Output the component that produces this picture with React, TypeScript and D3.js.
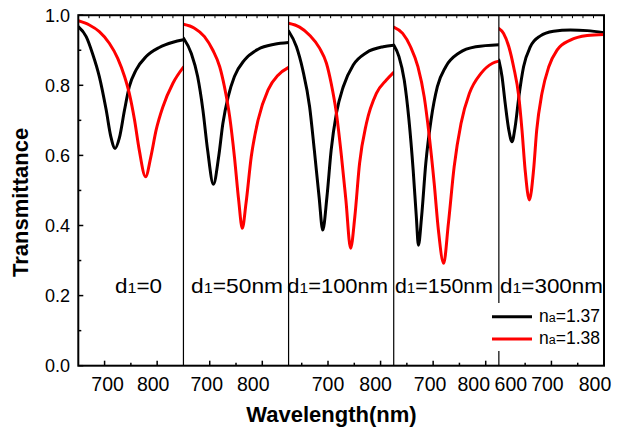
import React from 'react';
import * as d3 from 'd3';

// ---------- data ----------
const panelSuffix = ['=0', '=50nm', '=100nm', '=150nm', '=300nm'];
const panelDomains: [number, number][] = [[650, 850], [650, 850], [625, 825], [625, 825], [600, 800]];
const panelMajorTicks: number[][] = [[700, 800], [700, 800], [700, 800], [700, 800], [600, 700, 800]];
const yTicks = [0, 0.2, 0.4, 0.6, 0.8, 1.0];
const seriesNames = ['1.37', '1.38'];

// na = 1.37 (black) and na = 1.38 (red) per panel: [wavelength nm, transmittance]
const p1_137: [number, number][] = [[650, .967], [665, .939], [677, .891], [690, .825], [703, .73], [712, .653], [720, .62], [728, .649], [738, .73], [747, .796], [760, .844], [779, .882], [804, .908], [830, .923], [850, .93]];
const p1_138: [number, number][] = [[650, .984], [671, .972], [690, .953], [709, .92], [725, .877], [738, .825], [747, .777], [757, .701], [766, .615], [778, .539], [788, .596], [798, .672], [811, .739], [830, .806], [850, .852]];
const p2_137: [number, number][] = [[650, .935], [665, .891], [677, .825], [687, .73], [696, .615], [707, .518], [717, .596], [725, .691], [735, .767], [747, .825], [766, .872], [792, .903], [823, .917], [850, .922]];
const p2_138: [number, number][] = [[650, .974], [671, .963], [690, .939], [706, .9], [719, .853], [728, .796], [738, .71], [747, .596], [755, .473], [762, .392], [769, .463], [779, .596], [792, .701], [811, .787], [830, .829], [850, .851]];
const p3_137: [number, number][] = [[625, .955], [640, .91], [652, .844], [665, .739], [674, .615], [683, .482], [690, .387], [698, .482], [706, .615], [716, .72], [729, .796], [748, .858], [773, .893], [805, .91], [825, .914]];
const p3_138: [number, number][] = [[625, .977], [646, .966], [665, .943], [684, .906], [697, .863], [706, .806], [716, .72], [725, .606], [734, .473], [743, .335], [751, .425], [760, .577], [773, .691], [792, .777], [811, .815], [825, .837]];
const p4_137: [number, number][] = [[625, .915], [635, .882], [645, .815], [654, .701], [662, .558], [668, .425], [672, .344], [678, .425], [686, .577], [696, .701], [708, .796], [724, .853], [750, .893], [781, .91], [825, .916]];
const p4_138: [number, number][] = [[625, .966], [642, .948], [657, .91], [671, .853], [683, .767], [692, .663], [702, .52], [710, .387], [720, .292], [729, .406], [740, .568], [753, .691], [769, .777], [791, .834], [813, .863], [825, .869]];
const p5_137: [number, number][] = [[600, .872], [606, .825], [612, .749], [619, .672], [625, .639], [631, .682], [638, .767], [647, .853], [660, .91], [679, .941], [704, .954], [736, .958], [768, .956], [800, .95]];
const p5_138: [number, number][] = [[600, .962], [609, .948], [619, .91], [628, .853], [638, .767], [644, .672], [650, .558], [658, .473], [666, .558], [672, .672], [682, .777], [695, .853], [711, .901], [736, .929], [768, .942], [800, .945]];

const panelSeries = [
  [p1_137, p1_138],
  [p2_137, p2_138],
  [p3_137, p3_138],
  [p4_137, p4_138],
  [p5_137, p5_138],
];

// ---------- layout / style ----------
const W = 619, H = 431;
const L = 78.3, R = 604, T = 15.2, B = 365.7;
const colors = ['#000000', '#ff0000'];
const FONT = '"Liberation Sans", Arial, Helvetica, sans-serif';
const tickLabelShift = [[3, -4], [-3, -9], [0, -5], [-3, -12], [12, -4, -9]];
const annoDx = [36.7, 7.6, -1.3, 1.3, 1.1];
const annoLen = [47, 92, 100.7, 98, 103];

export default function App() {
  const edge = d3.scaleLinear().domain([0, panelDomains.length]).range([L, R]);
  const y = d3.scaleLinear().domain([0, 1]).range([B, T]);
  const xs = panelDomains.map((dom, i) => d3.scaleLinear().domain(dom).range([edge(i), edge(i + 1)]));

  return (
    <svg width={W} height={H} viewBox={`0 0 ${W} ${H}`}
      style={{ position: 'absolute', left: 0, top: 0, background: '#fff' }}
      fontFamily={FONT}>
      <defs>
        {xs.map((x, i) => (
          <clipPath id={`clip${i}`} key={i}>
            <rect x={edge(i)} y={T} width={edge(i + 1) - edge(i)} height={B - T} />
          </clipPath>
        ))}
      </defs>

      {/* curves */}
      {panelSeries.map((series, i) => {
        const line = d3.line<[number, number]>()
          .x(d => xs[i](d[0]))
          .y(d => y(d[1]))
          .curve(d3.curveMonotoneX);
        return (
          <g key={i} clipPath={`url(#clip${i})`}>
            {series.map((s, j) => (
              <path key={j} d={line(s) || ''} fill="none" stroke={colors[j]} strokeWidth={3}
                strokeLinejoin="round" strokeLinecap="round" />
            ))}
          </g>
        );
      })}

      {/* panel dividers */}
      {d3.range(1, panelDomains.length).map(i => (
        <line key={i} x1={edge(i)} x2={edge(i)} y1={T} y2={B} stroke="#000" strokeWidth={1.2} />
      ))}

      {/* top ticks */}
      {xs.map((x, i) => {
        const [a, b] = panelDomains[i];
        return d3.range(a + 20, b, 20).map(v => (
          <line key={`t${i}-${v}`} x1={x(v)} x2={x(v)} y1={T} y2={T + 3} stroke="#000" strokeWidth={1} />
        ));
      })}

      {/* bottom ticks */}
      {xs.map((x, i) => {
        const [a, b] = panelDomains[i];
        const minors = d3.range(Math.ceil(a / 50) * 50, b + 1, 50).filter(v => v % 100 !== 0 && v > a && v < b);
        return (
          <g key={`b${i}`}>
            {panelMajorTicks[i].filter(v => v > a && v < b).map(v => (
              <line key={`M${v}`} x1={x(v)} x2={x(v)} y1={B} y2={B - 5} stroke="#000" strokeWidth={1.5} />
            ))}
            {minors.map(v => (
              <line key={`m${v}`} x1={x(v)} x2={x(v)} y1={B} y2={B - 3} stroke="#000" strokeWidth={1.5} />
            ))}
            {panelMajorTicks[i].map((v, k) => (
              <text key={`l${v}`} x={x(v) + tickLabelShift[i][k]} y={390.5} fontSize={19.5}
                textAnchor="middle" fill="#000">{v}</text>
            ))}
          </g>
        );
      })}

      {/* left ticks */}
      {d3.range(0, 11).map(k => {
        const v = k / 10;
        const major = k % 2 === 0;
        return (
          <line key={`y${k}`} x1={L} x2={L + (major ? 5 : 3)} y1={y(v)} y2={y(v)} stroke="#000" strokeWidth={1.5} />
        );
      })}
      {yTicks.map(v => (
        <text key={`yl${v}`} x={70} y={y(v)} dy="0.36em" fontSize={18} textAnchor="end" fill="#000">
          {d3.format('.1f')(v)}
        </text>
      ))}

      {/* frame */}
      <rect x={L} y={T} width={R - L} height={B - T} fill="none" stroke="#000" strokeWidth={2} />

      {/* panel annotations */}
      {panelSuffix.map((s, i) => (
        <text key={`a${i}`} x={edge(i) + annoDx[i]} y={292.5} fontSize={21} fill="#000"
          textLength={annoLen[i]} lengthAdjust="spacingAndGlyphs">
          d<tspan fontSize={15}>1</tspan>{s}
        </text>
      ))}

      {/* legend */}
      <rect x={489} y={303} width={114} height={48} fill="#fff" />
      {seriesNames.map((n, j) => (
        <g key={`lg${j}`}>
          <line x1={492} x2={532} y1={316.7 + j * 22.3} y2={316.7 + j * 22.3} stroke={colors[j]} strokeWidth={3} />
          <text x={539} y={322 + j * 22.3} fontSize={17.5} fill="#000">
            n<tspan fontSize={12.5}>a</tspan>={n}
          </text>
        </g>
      ))}

      {/* axis titles */}
      <text x={331.5} y={422} fontSize={22} fontWeight="bold" textAnchor="middle" fill="#000">Wavelength(nm)</text>
      <text transform={`translate(28,${(T + B) / 2 + 12}) rotate(-90)`} fontSize={22} fontWeight="bold"
        textAnchor="middle" fill="#000">Transmittance</text>
    </svg>
  );
}
